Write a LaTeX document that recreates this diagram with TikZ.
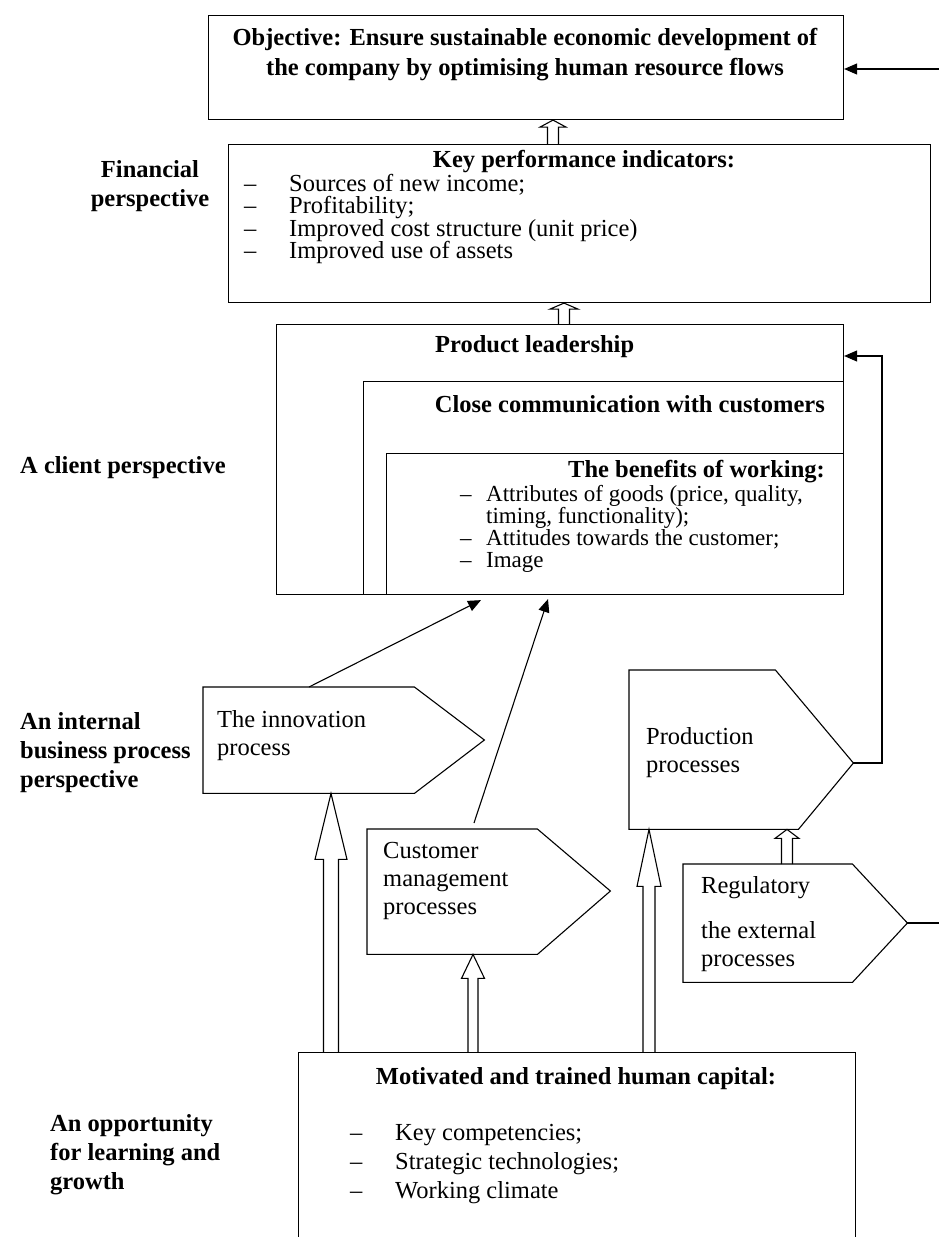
\documentclass[tikz,border=0pt]{standalone}
\usepackage{fontspec}
\setmainfont{Liberation Serif}
\usetikzlibrary{arrows.meta,calc}

\newcommand{\dashitem}[2][45pt]{\makebox[#1][l]{–}#2}
% hollow block arrow: bottom, top, head length, shaft half width, head half width
\newcommand{\hollowarrow}[5]{%
  \draw[ln, line join=miter] ($(#1)+(-#4,0)$) -- ($(#2)+(-#4,#3)$) -- ($(#2)+(-#5,#3)$) -- (#2)
    -- ($(#2)+(#5,#3)$) -- ($(#2)+(#4,#3)$) -- ($(#1)+(#4,0)$);}

\tikzset{
  frame/.style={draw, line width=1.1pt, inner sep=0pt, anchor=north west},
  body/.style={inner sep=0pt, anchor=north west},
  txt/.style={inner sep=0pt, align=left, font=\fontsize{24.5}{28}\selectfont},
  hd/.style={inner sep=0pt, align=center, font=\fontsize{24.5}{30}\selectfont\bfseries},
  side/.style={inner sep=0pt, align=left, anchor=west, font=\fontsize{24.5}{29}\selectfont\bfseries},
  arr/.style={line width=1.1pt, -{Triangle[length=13pt,width=11pt]}},
  ln/.style={line width=1.1pt}
}

\begin{document}
\begin{tikzpicture}[x=1pt,y=-1pt]
    \useasboundingbox (0,0) rectangle (939,1237);

    % perspectives
    \node[side, align=center, anchor=center] (fin) at (150,186) {Financial\\perspective};
    \node[side] (cli) at (20,468) {A client perspective};
    \node[side] (ibp) at (20,753) {An internal\\business process\\perspective};
    \node[side] (lrn) at (50,1155) {An opportunity\\for learning and\\growth};

    % objective
    \node[frame, minimum width=635, minimum height=104] (obj) at (208,15) {};
    \node[hd] (objtxt) at (525,55) {Objective: Ensure sustainable economic development of\\the company by optimising human resource flows};

    % financial
    \node[frame, minimum width=702, minimum height=158] (kpi) at (228,144) {};
    \node[hd] (kpihd) at (584,162) {Key performance indicators:};
    \node[txt, anchor=west, font=\fontsize{24.5}{22.5}\selectfont] (kpilist) at (244,219)
        {\dashitem{Sources of new income;}\\ \dashitem{Profitability;}\\
         \dashitem{Improved cost structure (unit price)}\\ \dashitem{Improved use of assets}};

    % client
    \node[frame, minimum width=567, minimum height=270] (client) at (276,324) {};
    \node[frame, minimum width=480, minimum height=213] (comm) at (363,381) {};
    \node[frame, minimum width=457, minimum height=141] (benef) at (386,453) {};
    \node[hd, anchor=west] (clienthd) at (435,347) {Product leadership};
    \node[hd, anchor=east] (commhd) at (825,404) {Close communication with customers};
    \node[hd, anchor=east] (benefhd) at (825,472) {The benefits of working:};
    \node[txt, anchor=west, font=\fontsize{23}{21.8}\selectfont] (beneflist) at (460,529)
        {\dashitem[26pt]{Attributes of goods (price, quality,}\\ \hspace*{26pt}timing, functionality);\\
         \dashitem[26pt]{Attitudes towards the customer;}\\ \dashitem[26pt]{Image}};

    % internal processes
    \node[body, minimum width=211, minimum height=106] (innov) at (203,687) {};
    \draw[ln] (innov.north west) -- (innov.north east) -- ++(70,53) coordinate (innovtip)
        -- (innov.south east) -- (innov.south west) -- cycle;
    \node[txt, anchor=west] (innovtxt) at (217,736) {The innovation\\process};

    \node[body, minimum width=146, minimum height=159] (prod) at (629,670) {};
    \draw[ln] (prod.north west) -- (prod.north east) -- ++(78,93) coordinate (prodtip)
        -- ($(prod.south east)+(23,0)$) -- (prod.south west) -- cycle;
    \node[txt, anchor=west] (prodtxt) at (646,753) {Production\\processes};

    \node[body, minimum width=170, minimum height=125] (cust) at (367,829) {};
    \draw[ln] (cust.north west) -- (cust.north east) -- ++(73,62) coordinate (custtip)
        -- (cust.south east) -- (cust.south west) -- cycle;
    \node[txt, anchor=west] (custtxt) at (383,881) {Customer\\management\\processes};

    \node[body, minimum width=169, minimum height=118] (reg) at (683,864) {};
    \draw[ln] (reg.north west) -- (reg.north east) -- ++(55,59) coordinate (regtip)
        -- (reg.south east) -- (reg.south west) -- cycle;
    \node[txt, anchor=west] (regtxt) at (701,888) {Regulatory};
    \node[txt, anchor=west] (regtxt2) at (701,947) {the external\\processes};

    % learning and growth
    \node[frame, minimum width=557, minimum height=200] (human) at (298,1052) {};
    \node[hd] (humanhd) at (576,1079) {Motivated and trained human capital:};
    \node[txt, anchor=west, font=\fontsize{24.5}{29}\selectfont] (humanlist) at (350,1164)
        {\dashitem{Key competencies;}\\ \dashitem{Strategic technologies;}\\ \dashitem{Working climate}};

    % block arrows
    \coordinate (a1) at (553,0);
    \coordinate (a2) at (564,0);
    \coordinate (a3) at (331,0);
    \coordinate (a4) at (473,0);
    \coordinate (a5) at (649,0);
    \coordinate (a6) at (787,0);
    \hollowarrow{a1 |- kpi.north}{a1 |- obj.south}{7}{5.5}{13}
    \hollowarrow{a2 |- client.north}{a2 |- kpi.south}{6}{5.5}{14}
    \hollowarrow{a3 |- human.north}{a3 |- innov.south}{66}{7.5}{16}
    \hollowarrow{a4 |- human.north}{a4 |- cust.south}{24}{5}{11.5}
    \hollowarrow{a5 |- human.north}{a5 |- prod.south}{57}{6}{12}
    \hollowarrow{a6 |- reg.north}{a6 |- prod.south}{9}{5.5}{12}

    % line arrows
    \draw[arr] ($(innov.north west)+(106,0)$) -- ($(client.south west)+(205,5)$);
    \draw[arr] ($(cust.north west)+(107,-6)$) -- ($(client.south west)+(272,4)$);
    \coordinate (ret) at (882,356);
    \draw[arr] (prodtip) -| (ret) -- (ret -| client.east);
    \coordinate (objin) at (939,69);
    \draw[arr] (objin) -- (objin -| obj.east);
    \draw[ln] (regtip) -- (regtip -| objin);
\end{tikzpicture}
\end{document}
